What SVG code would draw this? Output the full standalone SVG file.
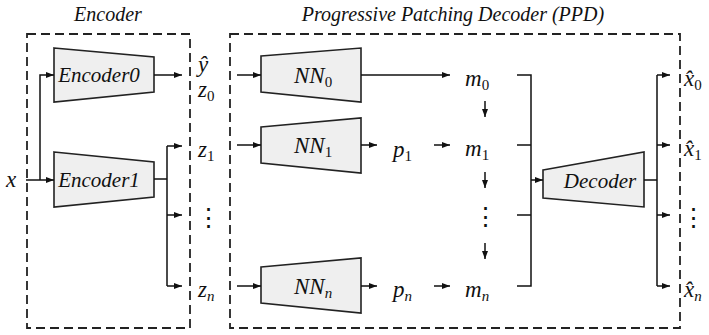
<svg xmlns="http://www.w3.org/2000/svg" width="709" height="335" viewBox="0 0 709 335">
<defs>
<marker id="ah" markerUnits="userSpaceOnUse" markerWidth="8" markerHeight="8" viewBox="0 0 8 8" refX="8" refY="4" orient="auto"><path d="M0,1 L8,4 L0,7 Z" fill="#111"/></marker>
</defs>
<g fill="none" stroke="#222" stroke-width="1.8" stroke-dasharray="9 5">
<rect id="enc-box" x="27" y="34" width="163" height="294"/>
<rect id="ppd-box" x="230" y="34" width="450" height="294"/>
</g>
<g font-family="Liberation Serif" font-style="italic" font-size="20" fill="#111" text-anchor="middle">
<text x="108" y="21">Encoder</text>
<text x="453" y="21">Progressive Patching Decoder (PPD)</text>
</g>
<g id="nodes" fill="#efefef" stroke="#222" stroke-width="1.6">
<g id="encoder0"><path d="M54,48 L154,57 L154,92 L54,102 Z"/><text x="99" y="82" fill="#111" stroke="none" font-family="Liberation Serif" font-style="italic" font-size="21" text-anchor="middle">Encoder0</text></g>
<g id="encoder1"><path d="M54,152 L154,162 L154,197 L54,207 Z"/><text x="99" y="187" fill="#111" stroke="none" font-family="Liberation Serif" font-style="italic" font-size="21" text-anchor="middle">Encoder1</text></g>
<g id="nn0"><path d="M261,56 L361,48 L361,102 L261,92 Z"/><text x="294" y="83" fill="#111" stroke="none" font-family="Liberation Serif" font-style="italic" font-size="23">NN<tspan font-style="normal" font-size="15" dy="4">0</tspan></text></g>
<g id="nn1"><path d="M261,127 L361,118 L361,173 L261,163 Z"/><text x="294" y="153" fill="#111" stroke="none" font-family="Liberation Serif" font-style="italic" font-size="23">NN<tspan font-style="normal" font-size="15" dy="4">1</tspan></text></g>
<g id="nnn"><path d="M261,267 L361,258 L361,313 L261,303 Z"/><text x="294" y="294" fill="#111" stroke="none" font-family="Liberation Serif" font-style="italic" font-size="23">NN<tspan font-size="15" dy="4">n</tspan></text></g>
<g id="decoder"><path d="M543,170 L644,152 L644,207 L543,198 Z"/><text x="600" y="188" fill="#111" stroke="none" font-family="Liberation Serif" font-style="italic" font-size="21" text-anchor="middle">Decoder</text></g>
</g>

<g id="labels" font-family="Liberation Serif" font-style="italic" font-size="23" fill="#111">
<text x="6" y="187">x</text>
<text x="198" y="72">ŷ</text>
<text x="198" y="97">z<tspan font-style="normal" font-size="15" dy="4">0</tspan></text>
<text x="198" y="157">z<tspan font-style="normal" font-size="15" dy="4">1</tspan></text>
<text x="208" y="226" font-family="DejaVu Serif" font-style="normal" font-size="25" text-anchor="middle">⋮</text>
<text x="198" y="297">z<tspan font-size="15" dy="4">n</tspan></text>
<text x="393" y="157">p<tspan font-style="normal" font-size="15" dy="4">1</tspan></text>
<text x="393" y="297">p<tspan font-size="15" dy="4">n</tspan></text>
<text x="465" y="86">m<tspan font-style="normal" font-size="15" dy="4">0</tspan></text>
<text x="465" y="156">m<tspan font-style="normal" font-size="15" dy="4">1</tspan></text>
<text x="485" y="225" font-family="DejaVu Serif" font-style="normal" font-size="25" text-anchor="middle">⋮</text>
<text x="465" y="297">m<tspan font-size="15" dy="4">n</tspan></text>
<text x="684" y="86">x̂<tspan font-style="normal" font-size="15" dy="4">0</tspan></text>
<text x="684" y="156">x̂<tspan font-style="normal" font-size="15" dy="4">1</tspan></text>
<text x="693" y="226" font-family="DejaVu Serif" font-style="normal" font-size="25" text-anchor="middle">⋮</text>
<text x="684" y="297">x̂<tspan font-size="15" dy="4">n</tspan></text>
</g>

<g id="connectors" fill="none" stroke="#111" stroke-width="1.5" marker-end="url(#ah)">
<path d="M26,180 H54"/>
<path d="M40,180 V75 H54"/>
<path d="M154,75 H182"/>
<path d="M154,179 H167 M167,146 V286" marker-end="none"/>
<path d="M167,146 H182"/>
<path d="M167,215 H182"/>
<path d="M167,286 H182"/>
<path d="M237,75 H261"/>
<path d="M237,145 H261"/>
<path d="M237,286 H261"/>
<path d="M361,75 H450"/>
<path d="M361,145 H377"/>
<path d="M434,145 H450"/>
<path d="M361,286 H377"/>
<path d="M434,286 H450"/>
<path d="M485,101 V117"/>
<path d="M485,172 V188"/>
<path d="M485,243 V259"/>
<path d="M517,75 H531 V286 H517 M517,145 H531 M517,215 H531" marker-end="none"/>
<path d="M531,180 H543"/>
<path d="M644,180 H657 M657,75 V286" marker-end="none"/>
<path d="M657,75 H670"/>
<path d="M657,145 H670"/>
<path d="M657,215 H670"/>
<path d="M657,286 H670"/>
</g>
</svg>
